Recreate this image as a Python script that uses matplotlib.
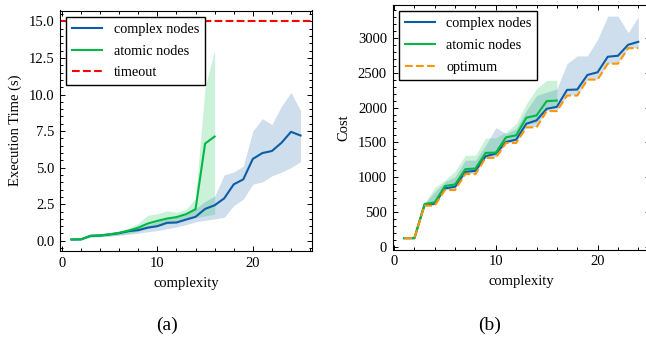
import numpy as np
import matplotlib
matplotlib.use("Agg")
import matplotlib.pyplot as plt
from matplotlib.ticker import AutoMinorLocator

plt.rcParams['font.family'] = ['Liberation Serif', 'DejaVu Serif']
plt.rcParams['mathtext.fontset'] = 'stix'

# ---------------- data: execution time ----------------
x_time_complex = list(range(1, 26))
time_complex = [0.09, 0.10, 0.34, 0.36, 0.43, 0.52, 0.66, 0.73, 0.90, 1.00,
                1.23, 1.25, 1.45, 1.64, 2.18, 2.43, 2.90, 3.86, 4.20, 5.60,
                6.00, 6.14, 6.70, 7.45, 7.20]
time_complex_hi = [0.12, 0.14, 0.42, 0.45, 0.52, 0.62, 0.80, 0.90, 1.10, 1.30,
                   1.50, 1.60, 1.80, 2.20, 2.70, 3.05, 4.50, 4.70, 5.10, 7.50,
                   8.35, 7.95, 9.20, 10.15, 8.90]
time_complex_lo = [0.05, 0.06, 0.25, 0.28, 0.32, 0.38, 0.45, 0.52, 0.62, 0.70,
                   0.82, 0.95, 1.10, 1.30, 1.40, 1.50, 1.60, 2.40, 2.85, 3.87,
                   4.03, 4.44, 4.69, 5.00, 5.42]

x_time_atomic = list(range(1, 17))
time_atomic = [0.09, 0.10, 0.34, 0.37, 0.45, 0.55, 0.70, 0.90, 1.18, 1.36,
               1.52, 1.62, 1.82, 2.16, 6.65, 7.13]
time_atomic_hi = [0.12, 0.14, 0.46, 0.48, 0.55, 0.62, 0.88, 1.20, 1.75, 1.85,
                  2.05, 1.95, 2.15, 2.90, 10.50, 13.05]
time_atomic_lo = [0.05, 0.06, 0.25, 0.28, 0.33, 0.40, 0.50, 0.65, 0.85, 1.00,
                  1.15, 1.30, 1.45, 1.60, 1.70, 1.82]
timeout = 15.0

# ---------------- data: cost ----------------
x_cost_complex = list(range(1, 25))
cost_complex = [128, 128, 604, 623, 841, 865, 1079, 1093, 1302, 1340, 1507, 1540,
                1768, 1816, 1982, 2010, 2253, 2258, 2467, 2505, 2728, 2742, 2899, 2942]
cost_complex_hi = [135, 135, 627, 794, 936, 1008, 1245, 1245, 1459, 1711, 1625, 1697,
                   1958, 2172, 2220, 2267, 2630, 2740, 2740, 2977, 3310, 3310, 3072, 3300]
cost_complex_lo = [125, 125, 594, 600, 820, 830, 1050, 1060, 1280, 1290, 1495, 1500,
                   1720, 1730, 1955, 1960, 2175, 2185, 2400, 2410, 2630, 2640, 2855, 2860]

x_cost_atomic = list(range(1, 17))
cost_atomic = [128, 128, 618, 642, 875, 898, 1117, 1126, 1350, 1354, 1573, 1602,
               1854, 1887, 2092, 2100]
cost_atomic_hi = [135, 135, 630, 850, 960, 1088, 1316, 1316, 1564, 1564, 1650, 1768,
                  2053, 2270, 2390, 2390]
cost_atomic_lo = [125, 125, 600, 620, 840, 860, 1070, 1080, 1300, 1310, 1520, 1530,
                  1760, 1780, 1990, 2000]

x_opt = list(range(1, 25))
cost_opt = [128, 128, 594, 594, 818, 818, 1046, 1046, 1279, 1279, 1492, 1492,
            1716, 1716, 1949, 1949, 2172, 2172, 2400, 2400, 2628, 2628, 2851, 2851]

BLUE = '#0C5DA5'
GREEN = '#00B945'
ORANGE = '#FF9500'
RED = '#FF0000'

W, H = 646, 339
fig = plt.figure(figsize=(W / 100, H / 100), dpi=100)

def px_axes(l, t, r, b):
    return fig.add_axes([l / W, 1 - b / H, (r - l) / W, (b - t) / H])

ax1 = px_axes(60, 10.5, 312, 251)
ax2 = px_axes(392.5, 5, 650, 249.5)

FS = 10.5
LFS = 10.3

def style(ax):
    ax.tick_params(which='both', direction='in', top=True, right=True,
                   labelsize=FS, width=0.7, colors='black')
    ax.tick_params(which='major', length=3.8, pad=4)
    ax.tick_params(which='minor', length=2.0)
    ax.xaxis.set_minor_locator(AutoMinorLocator())
    ax.yaxis.set_minor_locator(AutoMinorLocator())
    for s in ax.spines.values():
        s.set_linewidth(0.8)

LW = 1.5

def legend(ax):
    leg = ax.legend(loc='upper left', fontsize=LFS, frameon=True, fancybox=False,
                    edgecolor='black', framealpha=1, handlelength=2.1,
                    labelspacing=0.62, borderaxespad=0.45)
    leg.get_frame().set_linewidth(1.0)

# Left panel
ax1.plot(x_time_complex, time_complex, color=BLUE, lw=LW, label='complex nodes')
ax1.fill_between(x_time_complex, time_complex_lo, time_complex_hi, color=BLUE, alpha=0.2, lw=0)
ax1.plot(x_time_atomic, time_atomic, color=GREEN, lw=LW, label='atomic nodes')
ax1.fill_between(x_time_atomic, time_atomic_lo, time_atomic_hi, color=GREEN, alpha=0.2, lw=0)
ax1.axhline(timeout, color=RED, ls='--', lw=LW, label='timeout')
ax1.set_yticks([0, 2.5, 5, 7.5, 10, 12.5, 15])
ax1.set_yticklabels(['0.0', '2.5', '5.0', '7.5', '10.0', '12.5', '15.0'])
ax1.set_xticks([0, 10, 20])
ax1.set_xlabel('complexity', fontsize=FS, labelpad=5)
ax1.set_ylabel('Execution Time (s)', fontsize=FS, labelpad=5)
style(ax1)
legend(ax1)

# Right panel
ax2.plot(x_cost_complex, cost_complex, color=BLUE, lw=LW, label='complex nodes')
ax2.fill_between(x_cost_complex, cost_complex_lo, cost_complex_hi, color=BLUE, alpha=0.2, lw=0)
ax2.plot(x_cost_atomic, cost_atomic, color=GREEN, lw=LW, label='atomic nodes')
ax2.fill_between(x_cost_atomic, cost_atomic_lo, cost_atomic_hi, color=GREEN, alpha=0.2, lw=0)
ax2.plot(x_opt, cost_opt, color=ORANGE, ls='--', lw=LW, label='optimum')
ax2.set_yticks([0, 500, 1000, 1500, 2000, 2500, 3000])
ax2.set_xticks([0, 10, 20])
ax2.set_xlabel('complexity', fontsize=FS, labelpad=5)
ax2.set_ylabel('Cost', fontsize=FS, labelpad=5)
style(ax2)
legend(ax2)

fig.text(167 / W, 1 - 325 / H, '(a)', ha='center', va='center', fontsize=14)
fig.text(490 / W, 1 - 325 / H, '(b)', ha='center', va='center', fontsize=14)

fig.savefig('out.png', dpi=100)
